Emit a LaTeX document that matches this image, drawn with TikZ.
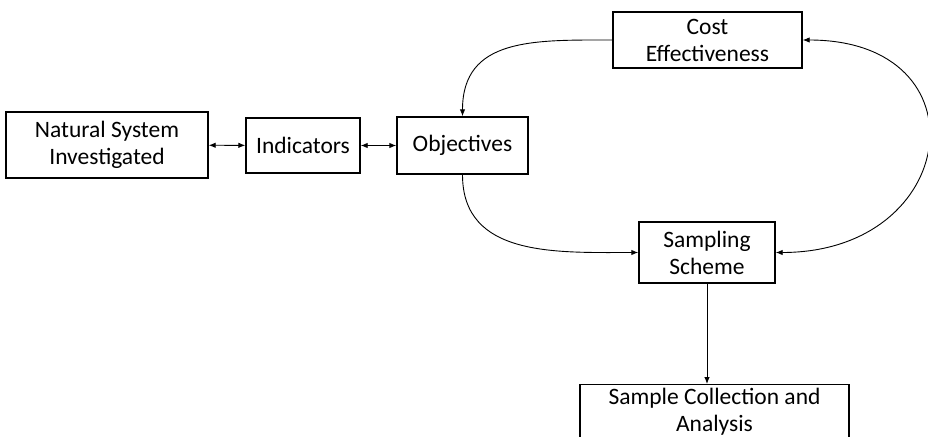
\documentclass[tikz,border=0pt]{standalone}
\usepackage{fontspec}
\setmainfont{Carlito}
\usetikzlibrary{arrows.meta}
\tikzset{%
	>={Latex[length=7pt,width=5.5pt]},
	every edge/.append style={line width=0.9pt},
	blk/.style = {draw, line width=1.4pt, align=center, inner sep=0pt, font=\fontsize{23.5}{27}\selectfont}
}
\begin{document}
\begin{tikzpicture}[x=1pt, y=-1pt]
			\useasboundingbox (0,0) rectangle (928,436);
			\clip (0,0) rectangle (928,436);
			\node [blk, minimum width=202pt, minimum height=66pt] (nat) at (107,145) {Natural System\\Investigated};
			\node [blk, minimum width=114pt, minimum height=55pt] (ind) at (303,145.5) {Indicators};
			\node [blk, minimum width=131pt, minimum height=57pt] (obj) at (462.5,145.5) {Objectives};
			\node [blk, minimum width=189pt, minimum height=56pt] (cost) at (707.5,40) {Cost\\Effectiveness};
			\node [blk, minimum width=136pt, minimum height=61pt] (samp) at (707,252.5) {Sampling\\Scheme};
			\node [blk, minimum width=269pt, minimum height=55pt, anchor=north] (coll) at (714.5,384) {Sample Collection and\\Analysis};
			\coordinate (drop) at (samp.south |- coll.north);
			\path [<->] (nat) edge (ind);
			\path [<->] (ind) edge (obj);
			\path [->] (cost.west) edge [out=180, in=90, looseness=1.2] (obj.north);
			\path [->] (obj.south) edge [out=-90, in=180, looseness=1.1] (samp.west);
			\path [<->] (samp.east) edge [out=0, in=0, looseness=2.2] (cost.east);
			\path [->] (samp.south) edge (drop);
\end{tikzpicture}
\end{document}
